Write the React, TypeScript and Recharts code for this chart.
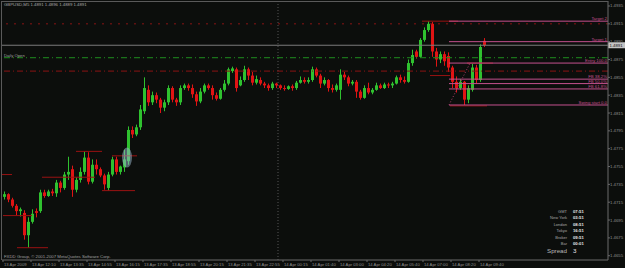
import { ComposedChart, Bar, XAxis, YAxis, ReferenceLine, ReferenceDot } from 'recharts'

document.body.style.margin = '0'

const W = 625
const H = 268
const BG = '#0c0e0c'
const BULL = '#2fc12f'
const BEAR = '#e01414'
const PINK = '#c4508e'
const SR = '#9a1212'
const GREY = '#8e8e8e'
const FONT = '"Liberation Sans", Arial, sans-serif'

// GBPUSD M5 candles
const opens = [
  1.4721, 1.4724, 1.4718, 1.4711, 1.4705, 1.4703, 1.4678, 1.4693, 1.4705, 1.4705,
  1.4726, 1.4722, 1.4727, 1.4725, 1.4737, 1.4731, 1.4746, 1.4752, 1.4729, 1.4740,
  1.4749, 1.4765, 1.4738, 1.4757, 1.4752, 1.4745, 1.4731, 1.4746, 1.4763, 1.4749,
  1.4754, 1.4761, 1.4796, 1.4791, 1.4799, 1.4817, 1.4841, 1.4827, 1.4835, 1.4830,
  1.4821, 1.4827, 1.4843, 1.4830, 1.4827, 1.4843, 1.4846, 1.4843, 1.4836, 1.4828,
  1.4839, 1.4846, 1.4843, 1.4835, 1.4831, 1.4841, 1.4848, 1.4862, 1.4864, 1.4846,
  1.4852, 1.4864, 1.4857, 1.4849, 1.4852, 1.4848, 1.4846, 1.4843, 1.4848, 1.4846,
  1.4843, 1.4842, 1.4845, 1.4843, 1.4849, 1.4852, 1.4850, 1.4852, 1.4864, 1.4857,
  1.4848, 1.4852, 1.4843, 1.4841, 1.4841, 1.4858, 1.4855, 1.4848, 1.4850, 1.4839,
  1.4832, 1.4843, 1.4838, 1.4841, 1.4846, 1.4843, 1.4847, 1.4846, 1.4848, 1.4855,
  1.4852, 1.4850, 1.4871, 1.4884, 1.4878, 1.4897, 1.4908, 1.4915, 1.4884, 1.4875,
  1.4881, 1.4879, 1.4866, 1.4850, 1.4843, 1.4850, 1.4830, 1.4841, 1.4866, 1.4852, 1.4896,
]
const highs = [
  1.4727, 1.4725, 1.4720, 1.4713, 1.4709, 1.4706, 1.4698, 1.4707, 1.4708, 1.4729,
  1.4729, 1.4729, 1.4730, 1.4740, 1.4739, 1.4749, 1.4766, 1.4756, 1.4743, 1.4754,
  1.4772, 1.4771, 1.4763, 1.4763, 1.4754, 1.4747, 1.4749, 1.4766, 1.4766, 1.4756,
  1.4774, 1.4800, 1.4800, 1.4802, 1.4824, 1.4855, 1.4846, 1.4839, 1.4838, 1.4832,
  1.4830, 1.4846, 1.4845, 1.4832, 1.4846, 1.4848, 1.4848, 1.4847, 1.4839, 1.4843,
  1.4848, 1.4848, 1.4846, 1.4838, 1.4843, 1.4852, 1.4866, 1.4867, 1.4866, 1.4856,
  1.4868, 1.4866, 1.4861, 1.4857, 1.4855, 1.4850, 1.4848, 1.4850, 1.4849, 1.4847,
  1.4846, 1.4846, 1.4847, 1.4851, 1.4856, 1.4855, 1.4855, 1.4867, 1.4866, 1.4859,
  1.4855, 1.4853, 1.4847, 1.4848, 1.4864, 1.4861, 1.4857, 1.4852, 1.4852, 1.4841,
  1.4846, 1.4849, 1.4843, 1.4849, 1.4848, 1.4849, 1.4849, 1.4850, 1.4857, 1.4858,
  1.4856, 1.4875, 1.4886, 1.4886, 1.4899, 1.4911, 1.4918, 1.4917, 1.4888, 1.4884,
  1.4884, 1.4883, 1.4868, 1.4856, 1.4853, 1.4851, 1.4846, 1.4870, 1.4869, 1.4892, 1.4899,
]
const lows = [
  1.4718, 1.4715, 1.4709, 1.4700, 1.4699, 1.4673, 1.4664, 1.4691, 1.4698, 1.4703,
  1.4720, 1.4721, 1.4722, 1.4721, 1.4726, 1.4729, 1.4740, 1.4721, 1.4726, 1.4737,
  1.4746, 1.4735, 1.4736, 1.4746, 1.4743, 1.4729, 1.4728, 1.4744, 1.4746, 1.4746,
  1.4749, 1.4757, 1.4787, 1.4789, 1.4796, 1.4814, 1.4823, 1.4824, 1.4826, 1.4815,
  1.4817, 1.4824, 1.4827, 1.4823, 1.4824, 1.4841, 1.4840, 1.4832, 1.4823, 1.4826,
  1.4837, 1.4841, 1.4830, 1.4829, 1.4830, 1.4839, 1.4846, 1.4860, 1.4839, 1.4845,
  1.4850, 1.4852, 1.4846, 1.4847, 1.4846, 1.4843, 1.4840, 1.4841, 1.4843, 1.4841,
  1.4840, 1.4841, 1.4840, 1.4841, 1.4848, 1.4848, 1.4848, 1.4850, 1.4855, 1.4843,
  1.4846, 1.4839, 1.4838, 1.4839, 1.4830, 1.4852, 1.4845, 1.4846, 1.4832, 1.4830,
  1.4831, 1.4836, 1.4836, 1.4840, 1.4842, 1.4842, 1.4843, 1.4843, 1.4847, 1.4849,
  1.4848, 1.4849, 1.4868, 1.4876, 1.4877, 1.4895, 1.4906, 1.4878, 1.4867, 1.4871,
  1.4868, 1.4861, 1.4843, 1.4838, 1.4841, 1.4824, 1.4826, 1.4839, 1.4848, 1.4850, 1.4889,
]
const closes = [
  1.4724, 1.4718, 1.4711, 1.4705, 1.4707, 1.4678, 1.4693, 1.4702, 1.4703, 1.4726,
  1.4722, 1.4727, 1.4725, 1.4737, 1.4731, 1.4746, 1.4749, 1.4729, 1.4740, 1.4749,
  1.4765, 1.4738, 1.4757, 1.4752, 1.4745, 1.4735, 1.4746, 1.4763, 1.4749, 1.4755,
  1.4763, 1.4796, 1.4791, 1.4799, 1.4819, 1.4843, 1.4827, 1.4835, 1.4830, 1.4821,
  1.4827, 1.4843, 1.4830, 1.4827, 1.4843, 1.4846, 1.4843, 1.4836, 1.4828, 1.4839,
  1.4846, 1.4843, 1.4835, 1.4831, 1.4841, 1.4848, 1.4864, 1.4865, 1.4843, 1.4852,
  1.4864, 1.4857, 1.4849, 1.4853, 1.4848, 1.4846, 1.4843, 1.4848, 1.4846, 1.4843,
  1.4842, 1.4845, 1.4843, 1.4849, 1.4852, 1.4850, 1.4852, 1.4864, 1.4857, 1.4848,
  1.4852, 1.4843, 1.4841, 1.4846, 1.4858, 1.4855, 1.4848, 1.4850, 1.4839, 1.4832,
  1.4843, 1.4838, 1.4841, 1.4846, 1.4843, 1.4847, 1.4846, 1.4848, 1.4855, 1.4852,
  1.4850, 1.4871, 1.4880, 1.4878, 1.4897, 1.4908, 1.4915, 1.4884, 1.4875, 1.4881,
  1.4873, 1.4866, 1.4850, 1.4843, 1.4850, 1.4830, 1.4843, 1.4866, 1.4852, 1.4889, 1.4891,
]

const timeLabels = [
  '13 Apr 2009', '13 Apr 12:10', '13 Apr 13:35', '13 Apr 14:55', '13 Apr 16:15', '13 Apr 17:35',
  '13 Apr 18:55', '13 Apr 20:15', '13 Apr 21:35', '13 Apr 22:55', '14 Apr 00:15', '14 Apr 01:40',
  '14 Apr 03:00', '14 Apr 04:20', '14 Apr 05:40', '14 Apr 07:00', '14 Apr 08:20', '14 Apr 09:40',
]
const priceTicks = [
  1.4655, 1.4675, 1.4695, 1.4715, 1.4735, 1.4755, 1.4775, 1.4795,
  1.4815, 1.4835, 1.4855, 1.4875, 1.4895, 1.4915, 1.4935,
]

// fibo / target levels drawn from the swing start bar to the right edge
const fiboNames = ['Target 2', 'Target 1', 'Entry 100.0', 'FB 38.2%', 'FB 50.0%', 'FB 61.8%', 'Swing start 0.0']
const fiboPrices = [1.4918, 1.4895, 1.4871, 1.4853, 1.4848, 1.4842, 1.4824]
const fiboFromBar = 111.75

// support / resistance stubs: [fromBar, toBar, price]
const srLines = [
  [0, 2.5, 1.4746], [0.25, 7.5, 1.4700], [3.75, 11.5, 1.4664], [10, 23.25, 1.4743],
  [18.5, 25, 1.4772], [25, 33.25, 1.4728], [27.5, 33.75, 1.4767], [105, 114, 1.4918],
  [107, 112, 1.4857], [116.25, 122.75, 1.4871], [112, 121.25, 1.4823],
]

const bid = 1.4891
const dayBreakBar = 69
const sessionNames = ['GMT', 'New York', 'London', 'Tokyo', 'Broker', 'Bar']
const sessionTimes = ['07:51', '03:51', '08:51', '16:51', '09:51', '00:01']
const spread = 3

const candles = opens.map((o, i) => ({
  x: i + 0.5, o, h: highs[i], l: lows[i], c: closes[i], range: [lows[i], highs[i]],
}))
const timeTicks = timeLabels.map((_, k) => 0.25 + 7 * k)

function Candle(props: any) {
  const { x, y, width, height, payload } = props
  if (!payload) return null
  const { o, h, l, c } = payload
  const top = Math.min(y, y + height)
  const hh = Math.abs(height)
  const k = h === l ? 0 : hh / (h - l)
  const cx = Math.round(x + width / 2)
  const bTop = top + (h - Math.max(o, c)) * k
  const bBot = top + (h - Math.min(o, c)) * k
  const color = c >= o ? BULL : BEAR
  return (
    <g>
      <line x1={cx + 0.5} x2={cx + 0.5} y1={top} y2={top + hh} stroke={color} strokeWidth={1} />
      <rect x={cx - 1} y={bTop} width={3} height={Math.max(1, bBot - bTop)} fill={color} />
    </g>
  )
}

const PriceTick = ({ x, y, payload }: any) => (
  <text x={x} y={y + 1.5} fontSize={4.3} fill={GREY} fontFamily={FONT}>{payload.value.toFixed(4)}</text>
)

const TimeTick = ({ x, y, payload }: any) => {
  const label = timeLabels[Math.round((payload.value - 0.25) / 7)]
  return <text x={x + 1} y={y + 3.5} fontSize={4.2} fill={GREY} fontFamily={FONT}>{label}</text>
}

const fiboLabel = (name: string) => (p: any) => {
  const vb = p.viewBox
  return (
    <text x={vb.x + vb.width - 1} y={vb.y - 1} textAnchor="end" fontSize={4.3} fill={PINK} fontFamily={FONT}>{name}</text>
  )
}

const BidLabel = (p: any) => {
  const vb = p.viewBox
  const x = vb.x + vb.width
  return (
    <g>
      <rect x={x} y={vb.y - 3} width={17} height={6} fill="#c4c4c4" />
      <text x={x + 1.5} y={vb.y + 1.6} fontSize={4.3} fill="#111" fontFamily={FONT}>{bid.toFixed(4)}</text>
    </g>
  )
}

export default function App() {
  return (
    <div style={{ position: 'relative', width: W, height: H, background: BG }}>
      <ComposedChart width={W} height={H} data={candles} margin={{ top: 1, right: 0, bottom: 0, left: 2 }}>
        <XAxis dataKey="x" type="number" domain={[0, 151.5]} ticks={timeTicks} interval={0} height={8}
          tick={<TimeTick />} tickSize={2} tickMargin={0} axisLine={{ stroke: '#6a6a6a' }} tickLine={{ stroke: '#6a6a6a' }} allowDataOverflow />
        <YAxis orientation="right" type="number" domain={[1.46502, 1.49406]} ticks={priceTicks} interval={0} width={17}
          tick={<PriceTick />} tickSize={2} tickMargin={0} axisLine={{ stroke: '#6a6a6a' }} tickLine={{ stroke: '#6a6a6a' }} allowDataOverflow />

        <ReferenceLine x={dayBreakBar} stroke="#555" strokeDasharray="1 2" />
        <ReferenceLine y={1.4915} stroke="#8a1414" strokeDasharray="2 6" />
        <ReferenceLine y={bid} stroke="#7c7c7c" label={BidLabel} />
        <ReferenceLine y={1.4877} stroke="#1f8f1f" strokeDasharray="6 3 1 3" />
        <ReferenceLine y={1.4862} stroke="#8a1414" strokeDasharray="6 3 1 3" />

        {srLines.map(([a, b, p], i) => (
          <ReferenceLine key={'sr' + i} segment={[{ x: a, y: p }, { x: b, y: p }]} stroke={SR} />
        ))}
        {fiboPrices.map((p, i) => (
          <ReferenceLine key={'fb' + i} segment={[{ x: fiboFromBar, y: p }, { x: 151.5, y: p }]} stroke={PINK}
            label={fiboLabel(fiboNames[i])} />
        ))}
        <ReferenceLine segment={[{ x: fiboFromBar, y: 1.4824 }, { x: 117, y: 1.4871 }]} stroke="#b0406e" strokeDasharray="1 2" />

        <ReferenceDot x={31.25} y={1.4765} r={5} isFront
          shape={(p: any) => <ellipse cx={p.cx} cy={p.cy} rx={5} ry={10} fill="#9cbad0" fillOpacity={0.5} />} />

        <Bar dataKey="range" barSize={3} shape={Candle} isAnimationActive={false} />
      </ComposedChart>

      <svg width={W} height={H} style={{ position: 'absolute', left: 0, top: 0, pointerEvents: 'none' }} fontFamily={FONT}>
        <line x1={1.5} y1={1} x2={1.5} y2={260} stroke="#5a5a5a" />
        <line x1={1} y1={1.5} x2={608} y2={1.5} stroke="#5a5a5a" />
        <text x={4} y={6} fontSize={4.3} fill="#a8a8a8">GBPUSD,M5  1.4891 1.4896 1.4889 1.4891</text>
        <text x={4} y={57} fontSize={4.2} fill="#a0a0a0">Daily Open</text>
        <text x={4} y={257.5} fontSize={4.3} fill="#a0a0a0">FXDD Group, © 2001-2007 MetaQuotes Software Corp.</text>
        {sessionNames.map((n, i) => (
          <g key={n}>
            <text x={567} y={212.5 + i * 6.5} textAnchor="end" fontSize={4} fill="#a8a8a8">{n}</text>
            <text x={573} y={212.5 + i * 6.5} fontSize={4.2} fill="#e8e8e8" fontWeight="bold">{sessionTimes[i]}</text>
          </g>
        ))}
        <text x={567} y={252.5} textAnchor="end" fontSize={6.2} fill="#b8b8b8">Spread</text>
        <text x={573} y={252.5} fontSize={6.2} fill="#e8e8e8">{spread}</text>
      </svg>
    </div>
  )
}
